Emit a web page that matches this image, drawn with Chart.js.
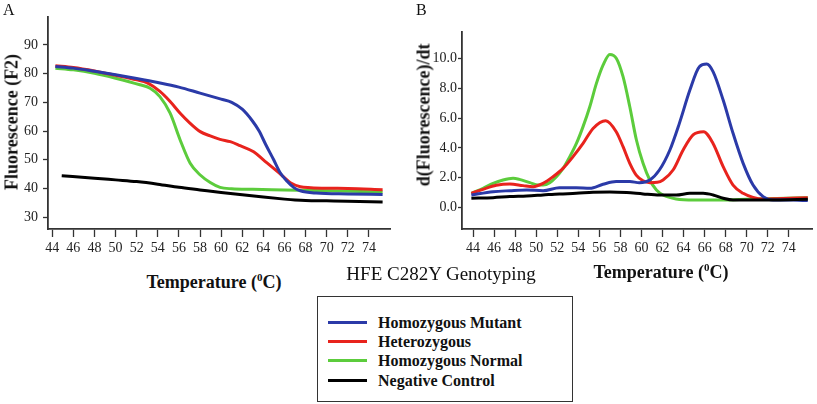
<!DOCTYPE html>
<html>
<head>
<meta charset="utf-8">
<script src="https://cdn.jsdelivr.net/npm/chart.js@4.4.1/dist/chart.umd.min.js"></script>
<style>
  html, body { margin:0; padding:0; background:#fff; }
  body { width:817px; height:404px; position:relative; overflow:hidden; font-family:"Liberation Serif","Times New Roman",serif; color:#111; }
  .cv { position:absolute; }
  .t { position:absolute; white-space:nowrap; }
  .bold { font-weight:bold; }
  .rot { transform:translate(-50%,-50%) rotate(-90deg); }
  .ctr { transform:translate(-50%,-50%); }
  #legend { position:absolute; left:317px; top:296px; width:254px; height:104px; border:1.5px solid #333; }
  .row { position:absolute; left:10px; height:19px; }
  .sw { position:absolute; left:0; top:8px; width:39px; height:3px; }
  .lt { position:absolute; left:50px; top:0; font-weight:bold; font-size:16px; line-height:19px; white-space:nowrap; }
</style>
</head>
<body>
<div class="cv" style="left:0;top:0;width:400px;height:262px;"><canvas id="cA"></canvas></div>
<div class="cv" style="left:410px;top:0;width:407px;height:262px;"><canvas id="cB"></canvas></div>

<div class="t" style="left:3px;top:1px;font-size:16px;">A</div>
<div class="t" style="left:416px;top:1px;font-size:16px;">B</div>
<div class="t bold rot" style="left:12px;top:122px;font-size:18px;">Fluorescence (F2)</div>
<div class="t bold rot" style="left:424px;top:115px;font-size:18px;">d(Fluorescence)/dt</div>
<div class="t bold ctr" style="left:214px;top:282px;font-size:18px;">Temperature (<sup style="font-size:11px;">0</sup>C)</div>
<div class="t bold ctr" style="left:661px;top:272px;font-size:18px;">Temperature (<sup style="font-size:11px;">0</sup>C)</div>
<div class="t ctr" style="left:441px;top:274px;font-size:19px;">HFE C282Y Genotyping</div>

<div id="legend"></div>

<script>
// ---------- Data ----------
const seriesNames = ["Homozygous Mutant", "Heterozygous", "Homozygous Normal", "Negative Control"];
const seriesColors = ["#2b3aa8", "#e8231d", "#5ccc3c", "#000000"];

const xTicks = [44,46,48,50,52,54,56,58,60,62,64,66,68,70,72,74];
const yTicksA = [30,40,50,60,70,80,90];
const yTicksB = [0,2,4,6,8,10];

// Panel A: fluorescence vs temperature
const tA_mut = [44.3,46,48,50,52,54,56,58,60,61,62,62.97,63.6,64.2,64.98,65.6,66.25,66.9,67.5,69,72,75.3];
const fA_mut = [82.5,81.9,80.8,79.6,78.3,76.9,75.3,73.2,71.1,70.0,67.6,63.5,60.0,55.5,50.0,45.5,42.5,40.3,39.2,38.4,38.1,37.9];
const tA_het = [44.3,46,48,50,52,53,54.2,55.17,56.12,57.07,58.02,58.97,59.9,60.87,61.8,63.08,64.03,64.98,65.9,66.56,67.5,68.5,70,72,75.3];
const fA_het = [82.7,82.1,80.9,79.4,77.8,76.8,73.8,70.3,66.2,62.7,59.8,58.3,57.1,56.3,54.9,52.8,49.9,47.0,44.1,42.0,40.6,40.3,40.1,40.0,39.6];
const tA_nor = [44.3,46,48,50,52.3,53.27,54.2,55.17,56.12,57.07,58.02,58.97,59.9,61,63,66,70,75.3];
const fA_nor = [81.9,81.3,80.1,78.4,76.1,74.9,72.0,66.2,56.9,48.8,44.7,42.1,40.4,39.9,39.7,39.5,39.2,38.8];
const tA_neg = [44.9,48,50,52,54,56,58,60,62,64,66,67,68,70,72,75.3];
const fA_neg = [44.4,43.6,43.0,42.4,41.5,40.4,39.5,38.6,37.8,37.0,36.3,36.0,35.8,35.7,35.6,35.3];

// Panel B: derivative vs temperature
const tB_mut = [43.84,45.9,47.5,49.1,50.65,52.2,53.8,55.1,56.35,57.6,58.9,59.8,60.8,61.7,62.7,63.6,64.6,65.5,66.2,66.8,67.76,68.7,69.66,70.6,71.56,72.5,74.4,75.8];
const dB_mut = [0.83,1.05,1.12,1.17,1.12,1.32,1.32,1.28,1.55,1.73,1.73,1.66,1.84,2.51,3.86,5.65,7.89,9.46,9.64,9.13,7.22,4.98,2.96,1.5,0.72,0.49,0.49,0.45];
const tB_het = [43.84,44.95,46.2,47.5,48.75,49.7,50.65,51.6,52.55,53.5,54.45,55.4,56.6,57.6,58.25,58.89,59.5,60.15,60.8,61.5,62.05,63,63.96,64.9,65.9,66.8,67.76,68.7,69.66,70.6,71.56,72.8,75.8];
const dB_het = [0.94,1.21,1.48,1.57,1.46,1.39,1.61,2.06,2.62,3.41,4.3,5.31,5.83,5.09,4.08,2.96,2.17,1.79,1.66,1.68,1.84,2.51,3.86,4.87,5.09,4.3,2.74,1.5,0.94,0.67,0.56,0.58,0.65];
const tB_nor = [43.84,44.95,45.9,46.85,47.8,48.4,49.4,50.2,50.65,51.29,51.92,52.55,53.19,53.82,54.45,55.09,55.72,56.35,56.99,57.62,58.25,58.89,59.52,60.15,60.79,61.42,62.05,63.3,65,68,70,72,75.8];
const dB_nor = [0.94,1.28,1.61,1.84,1.95,1.88,1.66,1.5,1.5,1.66,2.06,2.62,3.41,4.3,5.43,6.77,8.34,9.57,10.29,10.02,8.79,6.77,4.53,2.96,1.84,1.17,0.83,0.56,0.49,0.49,0.54,0.58,0.65];
const tB_neg = [43.84,45.9,47.5,49.1,50.65,52.2,53.8,55.4,57,58.6,60.15,61.7,63.3,64.6,65.86,66.8,67.76,68.7,69.66,72.8,75.8];
const dB_neg = [0.61,0.65,0.72,0.76,0.83,0.9,0.94,1.01,1.03,0.99,0.9,0.83,0.83,0.94,0.94,0.83,0.61,0.49,0.49,0.49,0.54];

// ---------- Helpers ----------
function pts(xs, ys) { return xs.map((x, i) => ({x: x, y: ys[i]})); }
function ds(i, xs, ys) {
  return { label: seriesNames[i], data: pts(xs, ys), borderColor: seriesColors[i], backgroundColor: seriesColors[i],
           borderWidth: 3, pointRadius: 0, tension: 0.4, cubicInterpolationMode: 'monotone', fill: false };
}
const tickFont = { family: "'Liberation Serif', 'Times New Roman', serif", size: 14 };

function makeChart(id, datasets, xr, yr, yTicks, yFmt, pad, yWidth, yTickLen, yPad) {
  return new Chart(document.getElementById(id), {
    type: 'line',
    data: { datasets: datasets },
    options: {
      responsive: true, maintainAspectRatio: false, animation: false,
      layout: { padding: pad },
      plugins: { legend: { display: false }, tooltip: { enabled: false } },
      scales: {
        x: {
          type: 'linear', min: xr[0], max: xr[1],
          afterBuildTicks: s => { s.ticks = xTicks.map(v => ({value: v})); },
          afterFit: s => { s.height = 33; },
          ticks: { font: tickFont, color: '#222', padding: 3, maxRotation: 0, autoSkip: false, callback: v => String(v) },
          grid: { display: true, drawOnChartArea: false, drawTicks: true, tickLength: 8, tickWidth: 1.3, color: '#333' },
          border: { display: true, color: '#333', width: 1.8 }
        },
        y: {
          type: 'linear', min: yr[0], max: yr[1],
          afterBuildTicks: s => { s.ticks = yTicks.map(v => ({value: v})); },
          afterFit: s => { s.width = yWidth; },
          ticks: { font: tickFont, color: '#222', padding: yPad, autoSkip: false, callback: yFmt },
          grid: { display: true, drawOnChartArea: false, drawTicks: true, tickLength: yTickLen, tickWidth: 1.3, color: '#333' },
          border: { display: true, color: '#333', width: 1.8 }
        }
      }
    }
  });
}

// Panel A
makeChart('cA',
  [ds(3, tA_neg, fA_neg), ds(0, tA_mut, fA_mut), ds(1, tA_het, fA_het), ds(2, tA_nor, fA_nor)],
  [43.6, 76.0], [25.9, 99.7], yTicksA, v => String(v),
  { left: 0, top: 17, right: 10, bottom: 0 }, 48, 5, 5);

// Panel B
makeChart('cB',
  [ds(3, tB_neg, dB_neg), ds(0, tB_mut, dB_mut), ds(1, tB_het, dB_het), ds(2, tB_nor, dB_nor)],
  [42.95, 76.2], [-1.46, 11.8], yTicksB, v => Number(v).toFixed(1),
  { left: 0, top: 32, right: 5, bottom: 0 }, 52, 4, 1);

// Legend
const leg = document.getElementById('legend');
const rowTops = [16, 35, 54, 74];
seriesNames.forEach((n, i) => {
  const r = document.createElement('div');
  r.className = 'row';
  r.style.top = rowTops[i] + 'px';
  r.innerHTML = '<div class="sw" style="background:' + seriesColors[i] + '"></div><div class="lt">' + n + '</div>';
  leg.appendChild(r);
});
</script>
</body>
</html>
